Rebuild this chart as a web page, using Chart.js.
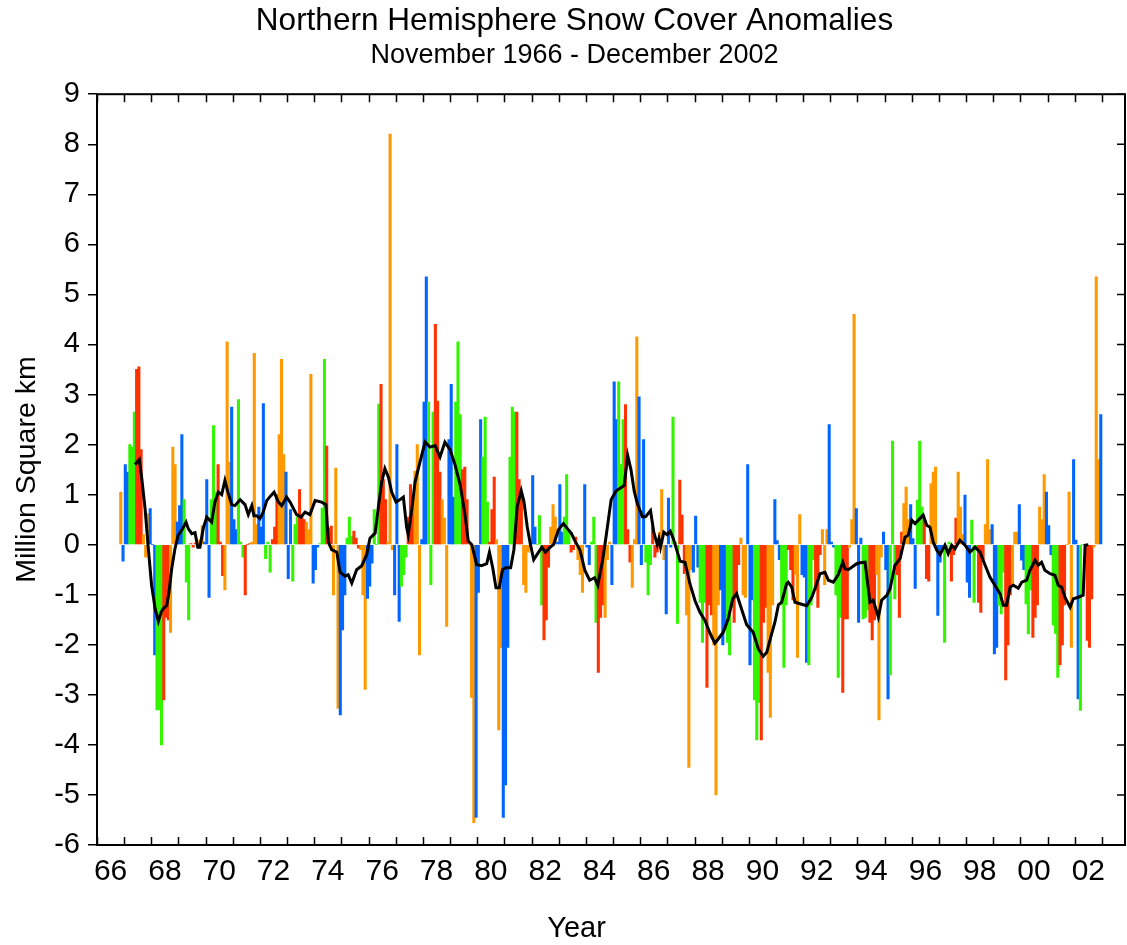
<!DOCTYPE html>
<html>
<head>
<meta charset="utf-8">
<title>Northern Hemisphere Snow Cover Anomalies</title>
<script src="https://cdn.jsdelivr.net/npm/chart.js@4.4.1/dist/chart.umd.min.js"></script>
<style>
  html, body { margin: 0; padding: 0; background: #fff; }
  #chart { display: block; }
</style>
</head>
<body>
<canvas id="chart" width="1127" height="945"></canvas>
<script>
// monthly anomalies, million km², starting November 1966 (one row per year)
const firstYear = 1966;
const firstMonth = 11;
const anomalies = [
  1.05, -0.33,
  1.6, 1.45, 2.0, 1.95, 2.65, 3.5, 3.55, 1.9, 0.2, -0.25, 0.62, 0.72,
  0.0, -2.2, -3.3, -3.3, -4.0, -3.1, -1.45, -1.5, -1.75, 1.95, 1.6, 0.45,
  0.78, 2.2, 0.9, -0.75, -1.5, 0.02, -0.05, 0.03, 0.05, 0.1, 0.38, 0.05,
  1.3, -1.05, 0.9, 2.38, 1.05, 1.6, 0.05, -0.62, -0.9, 4.05, 1.65, 2.75,
  0.5, 0.3, 2.9, 0.05, -0.25, -1.0, 0.0, 0.02, 0.05, 3.82, 0.4, 0.75,
  0.35, 2.82, -0.28, 0.05, -0.55, 0.1, 0.35, 1.0, 2.2, 3.7, 1.8, 1.45,
  -0.68, 0.7, -0.73, 0.4, 0.55, 1.1, 0.6, 0.5, 0.45, 0.3, 3.4, -0.77,
  -0.5, -0.05, 0.02, 0.73, 3.7, 1.97, 0.33, 0.37, -1.0, 1.53, -3.27, -3.4,
  -1.7, -1.0, 0.13, 0.55, 0.17, 0.27, 0.13, -0.07, -0.1, -1.0, -2.89, -1.07,
  -0.83, -0.37, 0.7, 0.0, 2.81, 3.2, 1.3, 0.9, 0.05, 8.2, -0.1, -1.0,
  2.0, -1.53, -0.83, -0.6, -0.25, 0.55, 1.2, 0.85, 1.47, 2.0, -2.2, 0.1,
  2.85, 5.35, 2.85, -0.8, 2.65, 4.4, 2.87, 1.45, 0.9, 0.53, -1.63, 2.1,
  3.2, 0.95, 2.85, 4.05, 2.6, 1.5, 1.55, 0.9, 0.05, -3.05, -5.55, -5.45,
  -0.95, 2.5, 1.75, 2.55, 0.85, 0.05, 0.7, 1.35, 0.1, -3.7, -2.05, -5.45,
  -4.8, -2.05, 1.75, 2.75, 2.65, 2.65, 1.3, 1.05, -0.8, -0.95, -0.15, 0.05,
  1.38, 0.35, 0.0, 0.58, -1.2, -1.9, -1.5, -0.45, 0.35, 0.8, 0.55, 0.05,
  1.2, 0.25, 0.55, 1.4, 0.3, -0.15, -0.1, 0.15, -0.3, -0.6, -0.95, 1.2,
  -0.05, -0.4, 0.05, 0.55, -1.55, -2.55, -1.45, -1.2, -1.45, -0.3, 0.05, -0.8,
  3.25, 2.5, 3.25, 1.6, 2.5, 2.8, 0.3, -0.35, -0.85, 0.1, 4.15, 2.95,
  -0.4, 2.1, -0.35, -1.0, -0.4, 0.35, -0.25, -0.15, 0.25, 1.1, -0.3, -1.38,
  0.93, -0.05, 2.55, 0.05, -1.57, 1.29, 0.59, -0.58, -1.4, -4.45, -0.5, -0.55,
  0.57, -0.45, -1.15, -1.95, -1.15, -2.85, -1.2, -1.4, -2.0, -5.0, -1.2, -0.9,
  -2.0, -1.65, -1.95, -2.2, -1.25, -1.55, -1.0, -0.4, 0.13, -1.0, -1.05, 1.6,
  -2.4, -1.1, -3.1, -3.9, -3.15, -3.9, -1.55, -1.25, -2.55, -3.45, -1.2, 0.9,
  0.08, -0.3, -1.2, -2.45, -1.2, -0.1, -0.5, -1.1, -0.6, -2.25, 0.6, -0.6,
  -0.65, -2.35, -2.4, -1.2, -0.3, -0.9, -1.25, -0.2, 0.3, -0.8, 0.3, 2.4,
  0.05, -0.05, -1.0, -2.65, -1.45, -2.95, -1.48, -1.48, -0.05, 0.5, 4.6, 0.72,
  -1.55, 0.13, -1.48, -1.45, -1.3, -1.55, -1.9, -1.5, -0.6, -3.5, -0.25, 0.25,
  -0.5, -3.08, -2.6, 2.07, -1.08, -0.6, -1.45, 0.25, 0.82, 1.15, 0.5, 0.8,
  0.12, -0.87, 0.89, 2.07, 0.75, 0.52, -0.68, -0.73, 1.22, 1.45, 1.55, -1.41,
  -0.35, -0.1, -1.95, -0.15, 0.05, -0.73, -0.2, 0.53, 1.45, 0.75, 0.2, 0.99,
  -0.75, -1.05, 0.49, -1.15, -0.05, -1.15, -1.35, -0.3, 0.4, 1.7, 0.3, 0.4,
  -2.18, -2.05, -1.21, -1.38, -0.55, -2.7, -2.0, -1.0, -0.8, 0.25, 0.25, 0.8,
  -0.31, -0.5, -1.18, -1.78, -0.9, -1.85, -1.45, -1.2, 0.75, 0.5, 1.4, 1.05,
  0.38, -0.2, -1.6, -1.77, -2.65, -2.4, -2.0, -1.2, 0.0, 1.05, -2.05, 1.7,
  0.09, -3.08, -3.31, 0.0, -0.02, -1.91, -2.05, -1.08, -0.05, 5.35, 1.7, 2.6
];

// 12-month running mean (decimal year, value)
const meanYears = [
  1967.40, 1967.56, 1967.65, 1967.77, 1967.89, 1968.01, 1968.14, 1968.26, 1968.36, 1968.44,
  1968.57, 1968.65, 1968.75, 1968.87, 1968.99, 1969.12, 1969.28, 1969.36, 1969.49, 1969.61,
  1969.71, 1969.79, 1969.91, 1970.04, 1970.22, 1970.34, 1970.47, 1970.59, 1970.71, 1970.82,
  1970.96, 1971.08, 1971.27, 1971.45, 1971.57, 1971.70, 1971.78, 1971.88, 1972.00, 1972.12,
  1972.25, 1972.40, 1972.52, 1972.68, 1972.80, 1972.98, 1973.11, 1973.35, 1973.51, 1973.66,
  1973.84, 1974.03, 1974.27, 1974.43, 1974.52, 1974.64, 1974.83, 1974.95, 1975.13, 1975.25,
  1975.38, 1975.56, 1975.75, 1975.93, 1976.05, 1976.24, 1976.36, 1976.48, 1976.60, 1976.73,
  1976.85, 1977.01, 1977.16, 1977.28, 1977.40, 1977.46, 1977.59, 1977.71, 1977.89, 1978.08,
  1978.26, 1978.45, 1978.63, 1978.81, 1979.00, 1979.18, 1979.37, 1979.55, 1979.67, 1979.80,
  1979.98, 1980.16, 1980.35, 1980.45, 1980.57, 1980.69, 1980.81, 1980.93, 1981.05, 1981.23,
  1981.35, 1981.47, 1981.62, 1981.72, 1981.84, 1981.96, 1982.08, 1982.20, 1982.38, 1982.51,
  1982.69, 1982.81, 1982.99, 1983.17, 1983.35, 1983.47, 1983.60, 1983.78, 1983.96, 1984.14,
  1984.32, 1984.44, 1984.62, 1984.74, 1984.93, 1985.11, 1985.23, 1985.41, 1985.54, 1985.66,
  1985.78, 1985.90, 1986.08, 1986.20, 1986.38, 1986.50, 1986.63, 1986.69, 1986.75, 1986.87,
  1986.99, 1987.11, 1987.22, 1987.47, 1987.65, 1987.83, 1988.02, 1988.20, 1988.39, 1988.57,
  1988.75, 1988.88, 1989.06, 1989.24, 1989.41, 1989.55, 1989.74, 1989.92, 1990.16, 1990.35,
  1990.53, 1990.66, 1990.84, 1990.96, 1991.09, 1991.21, 1991.39, 1991.45, 1991.58, 1991.70,
  1991.88, 1992.13, 1992.32, 1992.50, 1992.62, 1992.80, 1992.93, 1993.11, 1993.29, 1993.46,
  1993.54, 1993.66, 1993.79, 1993.97, 1994.09, 1994.28, 1994.46, 1994.58, 1994.77, 1994.89,
  1995.08, 1995.20, 1995.38, 1995.57, 1995.75, 1995.87, 1996.00, 1996.12, 1996.24, 1996.42,
  1996.55, 1996.67, 1996.79, 1996.92, 1997.04, 1997.22, 1997.34, 1997.47, 1997.59, 1997.77,
  1997.96, 1998.14, 1998.33, 1998.51, 1998.70, 1998.88, 1999.06, 1999.25, 1999.37, 1999.49,
  1999.62, 1999.74, 1999.92, 2000.05, 2000.23, 2000.35, 2000.54, 2000.66, 2000.78, 2000.90,
  2001.09, 2001.27, 2001.39, 2001.52, 2001.64, 2001.83, 2001.95, 2002.13, 2002.31, 2002.38,
  2002.50
];
const meanValues = [
  1.6, 1.7, 1.32, 0.72, -0.08, -0.81, -1.28, -1.53, -1.35, -1.28,
  -1.21, -0.95, -0.48, -0.08, 0.19, 0.29, 0.45, 0.32, 0.22, 0.24,
  -0.05, -0.05, 0.32, 0.55, 0.45, 0.85, 1.05, 1.0, 1.28, 1.05,
  0.8, 0.78, 0.9, 0.8, 0.6, 0.78, 0.58, 0.58, 0.52, 0.65,
  0.88, 0.98, 1.05, 0.85, 0.78, 0.95, 0.85, 0.6, 0.55, 0.65,
  0.6, 0.88, 0.85, 0.8, 0.05, -0.1, -0.15, -0.55, -0.63, -0.6,
  -0.77, -0.5, -0.42, -0.2, 0.13, 0.23, 0.75, 1.25, 1.52, 1.35,
  1.05, 0.85, 0.9, 0.95, 0.35, 0.2, 0.7, 1.25, 1.65, 2.05,
  1.95, 1.98, 1.75, 2.05, 1.9, 1.6, 1.2, 0.6, 0.07, 0.0,
  -0.4, -0.42, -0.38, -0.15, -0.46, -0.86, -0.86, -0.5, -0.46, -0.46,
  -0.1, 0.76, 1.08, 0.86, 0.36, 0.0, -0.3, -0.2, -0.05, -0.15,
  -0.05, 0.0, 0.3, 0.42, 0.3, 0.22, 0.07, -0.1, -0.51, -0.71,
  -0.66, -0.81, -0.3, 0.15, 0.9, 1.07, 1.12, 1.18, 1.78, 1.5,
  1.07, 0.81, 0.56, 0.56, 0.68, 0.25, 0.0, 0.12, -0.05, 0.25,
  0.2, 0.27, 0.12, -0.33, -0.35, -0.78, -1.12, -1.35, -1.52, -1.77,
  -1.97, -1.88, -1.75, -1.48, -1.08, -0.98, -1.3, -1.6, -1.75, -2.08,
  -2.23, -2.15, -1.78, -1.55, -1.2, -1.15, -0.78, -0.75, -0.85, -1.15,
  -1.18, -1.22, -1.05, -0.78, -0.58, -0.55, -0.71, -0.75, -0.6, -0.35,
  -0.48, -0.5, -0.45, -0.38, -0.36, -0.35, -1.15, -1.11, -1.45, -1.11,
  -1.01, -0.88, -0.41, -0.28, 0.15, 0.19, 0.49, 0.42, 0.49, 0.59,
  0.39, 0.35, 0.05, -0.11, -0.2, -0.01, -0.18, -0.01, -0.08, 0.09,
  -0.01, -0.15, -0.05, -0.15, -0.41, -0.65, -0.81, -0.98, -1.21, -1.21,
  -0.85, -0.81, -0.87, -0.75, -0.71, -0.51, -0.31, -0.41, -0.35, -0.51,
  -0.58, -0.61, -0.81, -0.85, -1.05, -1.25, -1.08, -1.05, -1.01, -0.01,
  0.0
];

// x axis: year marks at every Jan 1, two-digit labels centred on even years
const firstTickYear = 1966;
const lastTickYear = 2003;
const labelYears = [1966, 1968, 1970, 1972, 1974, 1976, 1978, 1980, 1982, 1984,
                    1986, 1988, 1990, 1992, 1994, 1996, 1998, 2000, 2002];
const yearLabels = ['66', '68', '70', '72', '74', '76', '78', '80', '82', '84',
                    '86', '88', '90', '92', '94', '96', '98', '00', '02'];

// season colours: DJF, MAM, JJA, SON
const seasonColors = { winter: '#0066ff', spring: '#33f500', summer: '#ff3300', autumn: '#ff9900' };

const FONT = '"Liberation Sans", Arial, Helvetica, sans-serif';
Chart.defaults.font.family = FONT;
Chart.defaults.color = '#000';

function seasonOf(mon) {
  if (mon === 11 || mon <= 1) return 'winter';
  if (mon <= 4) return 'spring';
  if (mon <= 7) return 'summer';
  return 'autumn';
}

const barPoints = [];
const barColors = [];
anomalies.forEach((v, i) => {
  const m = firstMonth - 1 + i;
  const yr = firstYear + Math.floor(m / 12);
  const mon = m % 12;
  barPoints.push({ x: yr + (mon + 0.5) / 12, y: v });
  barColors.push(seasonColors[seasonOf(mon)]);
});

const meanPoints = meanYears.map((yr, i) => ({ x: yr, y: meanValues[i] }));
const labelAt = new Map(labelYears.map((yr, i) => [yr + 0.5, yearLabels[i]]));

const PAD_LEFT = 24, PAD_RIGHT = 2;

// frame, inward year ticks (top/bottom), inward ticks on the right, and the "Year" caption
const frameTicks = {
  id: 'frameTicks',
  afterDraw(chart) {
    const { ctx, chartArea: a, scales: { x, y } } = chart;
    ctx.save();
    ctx.strokeStyle = '#000';
    ctx.lineWidth = 1.5;
    ctx.beginPath();
    for (let yr = firstTickYear; yr <= lastTickYear; yr++) {
      const px = Math.round(x.getPixelForValue(yr)) + 0.5;
      ctx.moveTo(px, a.bottom); ctx.lineTo(px, a.bottom - 8);
      ctx.moveTo(px, a.top); ctx.lineTo(px, a.top + 8);
    }
    y.ticks.forEach(t => {
      const py = y.getPixelForValue(t.value);
      ctx.moveTo(a.right, py); ctx.lineTo(a.right - 8, py);
    });
    ctx.stroke();
    ctx.lineWidth = 2;
    ctx.strokeRect(a.left, a.top, a.right - a.left, a.bottom - a.top);

    ctx.fillStyle = '#000';
    ctx.font = '29px ' + FONT;
    ctx.textAlign = 'center';
    ctx.textBaseline = 'middle';
    ctx.fillText('Year', (PAD_LEFT + chart.width - PAD_RIGHT) / 2 + 2, chart.height - 16);
    ctx.restore();
  }
};

new Chart(document.getElementById('chart'), {
  type: 'bar',
  data: {
    datasets: [
      {
        type: 'line',
        data: meanPoints,
        borderColor: '#000',
        borderWidth: 3,
        pointRadius: 0,
        tension: 0,
        order: 0
      },
      {
        type: 'bar',
        data: barPoints,
        backgroundColor: barColors,
        borderWidth: 0,
        barPercentage: 1.0,
        categoryPercentage: 1.0,
        inflateAmount: 0.4,
        order: 1
      }
    ]
  },
  options: {
    responsive: false,
    animation: false,
    devicePixelRatio: 1,
    layout: { padding: { left: PAD_LEFT, right: PAD_RIGHT, top: 0, bottom: 0 } },
    plugins: {
      legend: { display: false },
      tooltip: { enabled: false },
      title: {
        display: true,
        text: 'Northern Hemisphere Snow Cover Anomalies',
        font: { size: 31.5, weight: 'normal' },
        color: '#000',
        padding: { top: 2, bottom: 0 }
      },
      subtitle: {
        display: true,
        text: 'November 1966 - December 2002',
        font: { size: 27, weight: 'normal' },
        color: '#000',
        padding: { top: 0, bottom: 22 }
      }
    },
    scales: {
      x: {
        type: 'linear',
        min: 1966,
        max: 2003.85,
        offset: false,
        grid: { display: false, drawTicks: false },
        border: { display: false },
        ticks: {
          autoSkip: false,
          maxRotation: 0,
          padding: 9,
          font: { size: 30 },
          color: '#000',
          callback: (v) => labelAt.get(v) ?? ''
        },
        afterBuildTicks: (scale) => {
          scale.ticks = labelYears.map(yr => ({ value: yr + 0.5 }));
        },
        afterFit: (scale) => { scale.height = 100; }
      },
      y: {
        min: -6,
        max: 9,
        ticks: { stepSize: 1, padding: 8, font: { size: 29 }, color: '#000' },
        grid: { drawOnChartArea: false, drawTicks: true, tickLength: 9, color: '#000', lineWidth: 1.5 },
        border: { display: false },
        title: {
          display: true,
          text: 'Million Square km',
          font: { size: 28.5, lineHeight: 0.25 },
          color: '#000',
          padding: { top: 0, bottom: 0 }
        },
        afterFit: (scale) => { scale.width = 97 - PAD_LEFT; }
      }
    }
  },
  plugins: [frameTicks]
});
</script>
</body>
</html>
